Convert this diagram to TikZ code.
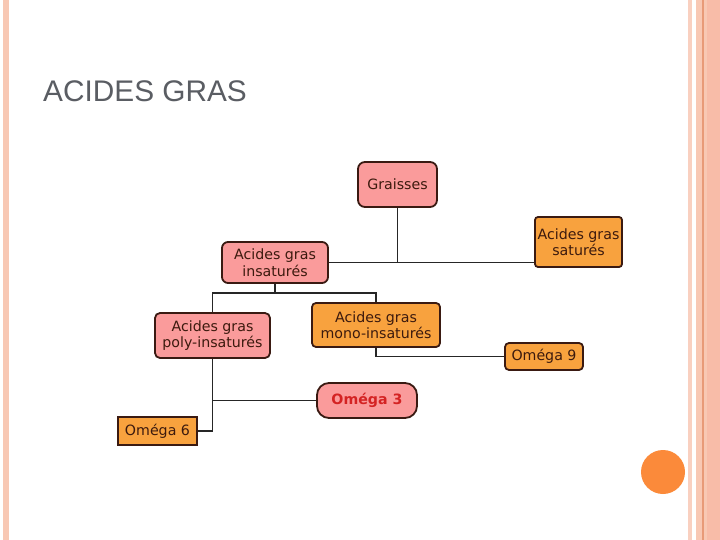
\documentclass[tikz,border=0pt]{standalone}
\usepackage{fontspec}
\setmainfont{DejaVu Sans}
\newfontfamily\titlefont{Liberation Sans}
\usetikzlibrary{positioning,calc}
\definecolor{peach}{HTML}{F8C8B4}
\definecolor{peachlight}{HTML}{F9D0C0}
\definecolor{peachdark}{HTML}{F8BCA8}
\definecolor{rim}{HTML}{E89A78}
\definecolor{pinkbox}{HTML}{FA9B9B}
\definecolor{orangebox}{HTML}{F8A23E}
\definecolor{boxline}{HTML}{3A1A12}
\definecolor{boxtext}{HTML}{3C1A0E}
\definecolor{omegared}{HTML}{D42323}
\definecolor{titlegray}{HTML}{5A5D63}
\definecolor{dot}{HTML}{FB8A3A}
\begin{document}
\begin{tikzpicture}[x=1pt,y=-1pt,
  font=\fontsize{14.2}{16.5}\selectfont,
  box/.style={draw=boxline,line width=1.8pt,align=center,inner sep=1pt,text=boxtext},
  pinkb/.style={box,fill=pinkbox},
  orangeb/.style={box,fill=orangebox},
  link/.style={draw=black!85,line width=1.8pt}]
  \fill[white] (0,0) rectangle (720,540);
  \useasboundingbox (0,0) rectangle (720,540);
  \fill[peach] (3,0) rectangle (9,540);
  \fill[peachlight] (688,0) rectangle (692,540);
  \fill[peach] (696,0) rectangle (702,540);
  \fill[rim] (702,0) rectangle (703.5,540);
  \fill[peach] (703.5,0) rectangle (707,540);
  \fill[peachdark] (707,0) rectangle (720,540);
  \fill[dot] (663,472) circle (22);
  \node[anchor=base west,text=titlegray,inner sep=0pt,font=\titlefont\fontsize{29.8}{32}\selectfont] (title) at (43,102) {ACIDES GRAS};
  \node[pinkb,rounded corners=7pt,minimum width=79pt,minimum height=45pt] (graisses) at (397.5,184.5) {Graisses};
  \node[pinkb,rounded corners=6pt,minimum width=106pt,minimum height=41pt] (insat) at (275,262.5) {Acides gras\\insaturés};
  \node[orangeb,rounded corners=3pt,minimum width=87pt,minimum height=50pt] (satur) at (578.5,242) {Acides gras\\saturés};
  \node[orangeb,rounded corners=4pt,minimum width=128pt,minimum height=44pt] (mono) at (376,325) {Acides gras\\mono-insaturés};
  \node[pinkb,rounded corners=5pt,minimum width=115pt,minimum height=45pt] (poly) at (212.5,335.5) {Acides gras\\poly-insaturés};
  \node[orangeb,rounded corners=4pt,minimum width=78pt,minimum height=27pt] (omnine) at (544,356.5) {Oméga 9};
  \node[pinkb,rounded corners=12pt,minimum width=100pt,minimum height=35pt,text=omegared,font=\fontsize{14.2}{16.5}\selectfont\bfseries] (omtrois) at (367,400.5) {Oméga 3};
  \node[orangeb,minimum width=79pt,minimum height=28pt] (omsix) at (157.5,431) {Oméga 6};
  \coordinate (fork) at (275,293);
  \draw[link] (graisses.south) -- (graisses.south |- insat.east);
  \draw[link] (insat.east) -- (insat.east -| satur.west);
  \draw[link] (insat.south) -- (fork);
  \draw[link] (poly.north) |- (fork) -| (mono.north);
  \draw[link] (mono.south) |- (omnine.west);
  \draw[link] (poly.south) |- (omsix.east);
  \draw[link] (poly.south |- omtrois.west) -- (omtrois.west);
\end{tikzpicture}
\end{document}
